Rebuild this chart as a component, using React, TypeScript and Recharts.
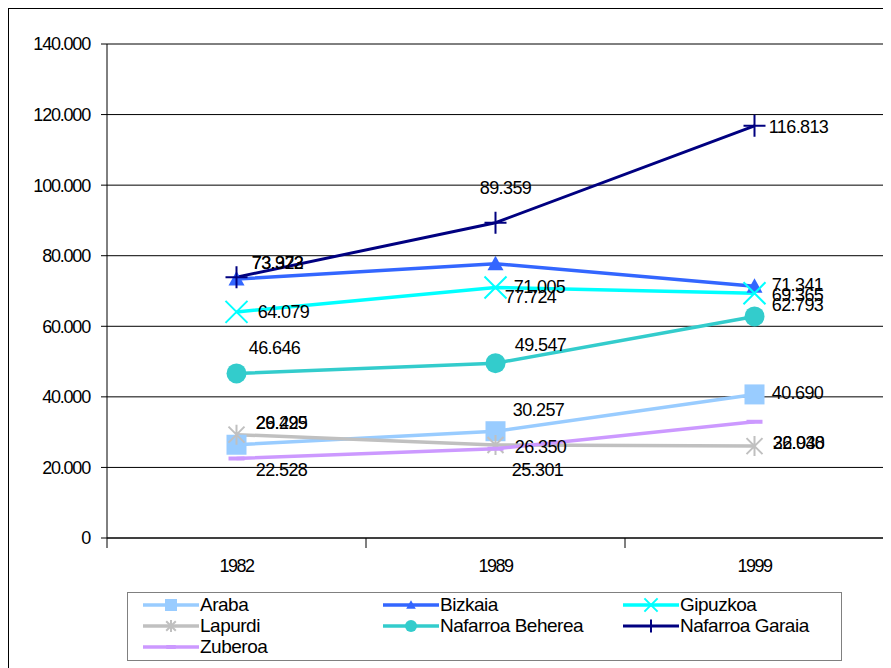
import { LineChart, Line, XAxis, YAxis, CartesianGrid, LabelList } from "recharts";

const years = ["1982", "1989", "1999"];
const yTicks = [0, 20000, 40000, 60000, 80000, 100000, 120000, 140000];

const araba = [26429, 30257, 40690];
const bizkaia = [73372, 77724, 71341];
const gipuzkoa = [64079, 71005, 69365];
const lapurdi = [29295, 26350, 26040];
const nafarroaBeherea = [46646, 49547, 62793];
const nafarroaGaraia = [73923, 89359, 116813];
const zuberoa = [22528, 25301, 32938];

type Kind = "square" | "triangle" | "x" | "star" | "circle" | "plus" | "dash";

// style + label placement per series (label offsets are relative to the point)
const series: {
  name: string;
  values: number[];
  color: string;
  width: number;
  marker: Kind;
  offsets: [number, number][];
}[] = [
  { name: "Araba", values: araba, color: "#99CCFF", width: 3.5, marker: "square", offsets: [[45, -22], [43, -21], [43, -1]] },
  { name: "Bizkaia", values: bizkaia, color: "#3366FF", width: 3.5, marker: "triangle", offsets: [[41, -16], [35, 33], [43, -1]] },
  { name: "Gipuzkoa", values: gipuzkoa, color: "#00FFFF", width: 3.5, marker: "x", offsets: [[47, 0], [44, 0], [43, 2]] },
  { name: "Lapurdi", values: lapurdi, color: "#C0C0C0", width: 3.5, marker: "star", offsets: [[45, -12], [45, 2], [44, -3]] },
  { name: "Nafarroa Beherea", values: nafarroaBeherea, color: "#33CCCC", width: 3.5, marker: "circle", offsets: [[38, -25], [45, -18], [43, -11]] },
  { name: "Nafarroa Garaia", values: nafarroaGaraia, color: "#000080", width: 3, marker: "plus", offsets: [[41, -14], [10, -35], [44, 1]] },
  { name: "Zuberoa", values: zuberoa, color: "#CC99FF", width: 3.5, marker: "dash", offsets: [[45, 11], [42, 21], [44, 21]] },
];

// categories sit at the middle of each band so the tick marks can go on the band edges
const data = years.map((year, i) => {
  const row: Record<string, number | string> = { x: i + 0.5, year };
  series.forEach((s) => (row[s.name] = s.values[i]));
  return row;
});

const fmt = (v: number) => String(v).replace(/\B(?=(\d{3})+(?!\d))/g, ".");

const FONT = "'Liberation Sans', Arial, sans-serif";

function Marker({ kind, cx, cy, color, s = 1 }: { kind: Kind; cx: number; cy: number; color: string; s?: number }) {
  const h = 10 * s;
  switch (kind) {
    case "square":
      return <rect x={cx - h} y={cy - h} width={2 * h} height={2 * h} fill={color} />;
    case "triangle": {
      const t = 8 * s;
      return <path d={`M${cx},${cy - t} L${cx + t},${cy + t * 0.8} L${cx - t},${cy + t * 0.8} Z`} fill={color} />;
    }
    case "circle":
      return <circle cx={cx} cy={cy} r={h} fill={color} />;
    case "x": {
      const a = 11 * s;
      return (
        <path d={`M${cx - a},${cy - a} L${cx + a},${cy + a} M${cx - a},${cy + a} L${cx + a},${cy - a}`} stroke={color} strokeWidth={2} />
      );
    }
    case "star": {
      const a = 8 * s;
      return (
        <path
          d={`M${cx - a},${cy - a} L${cx + a},${cy + a} M${cx - a},${cy + a} L${cx + a},${cy - a} M${cx},${cy - h} L${cx},${cy + h}`}
          stroke={color}
          strokeWidth={2}
        />
      );
    }
    case "plus": {
      const a = 11 * s;
      return <path d={`M${cx - a},${cy} L${cx + a},${cy} M${cx},${cy - a} L${cx},${cy + a}`} stroke={color} strokeWidth={2} />;
    }
    case "dash":
      return <path d={`M${cx - 8 * s},${cy} L${cx + 8 * s},${cy}`} stroke={color} strokeWidth={4} />;
  }
}

function XTick(props: any) {
  const { x, y, payload } = props;
  const v = payload.value as number;
  if (Number.isInteger(v)) {
    return <line x1={x} y1={y} x2={x} y2={y + 10} stroke="#000" />;
  }
  return (
    <text x={x} y={y + 34} textAnchor="middle" fontSize={18} letterSpacing={-1.5} fill="#000" fontFamily={FONT}>
      {years[Math.floor(v)]}
    </text>
  );
}

const makeLabel = (offsets: [number, number][]) => (props: any) => {
  const { x, y, value, index } = props;
  const [dx, dy] = offsets[index] || [40, 0];
  return (
    <text
      x={x + dx}
      y={y + dy}
      textAnchor="middle"
      dominantBaseline="central"
      fontSize={18}
      letterSpacing={-0.6}
      fill="#000"
      fontFamily={FONT}
    >
      {fmt(value)}
    </text>
  );
};

export default function App() {
  return (
    <div
      style={{
        position: "relative",
        width: 880,
        height: 668,
        border: "1px solid #000",
        background: "#fff",
        fontFamily: FONT,
      }}
    >
      <LineChart width={878} height={650} data={data} margin={{ top: 35, right: 3, bottom: 81, left: 0 }}>
        <CartesianGrid vertical={false} stroke="#000" />
        <XAxis
          dataKey="x"
          type="number"
          domain={[0, 3]}
          ticks={[0, 0.5, 1, 1.5, 2, 2.5, 3]}
          tickLine={false}
          tickSize={0}
          tickMargin={0}
          axisLine={{ stroke: "#000" }}
          tick={<XTick />}
          height={40}
          interval={0}
        />
        <YAxis
          width={98}
          domain={[0, 140000]}
          ticks={yTicks}
          tickFormatter={fmt}
          tickSize={6}
          tickMargin={11}
          axisLine={{ stroke: "#000" }}
          tickLine={{ stroke: "#000" }}
          tick={{ fill: "#000", fontSize: 18, letterSpacing: -1.2, fontFamily: FONT }}
          interval={0}
        />
        {series.map((s) => (
          <Line
            key={s.name}
            dataKey={s.name}
            stroke={s.color}
            strokeWidth={s.width}
            isAnimationActive={false}
            activeDot={false}
            dot={(p: any) => (
              <g key={`${s.name}-${p.index}`}>
                <Marker kind={s.marker} cx={p.cx} cy={p.cy} color={s.color} />
              </g>
            )}
          >
            <LabelList dataKey={s.name} content={makeLabel(s.offsets)} />
          </Line>
        ))}
      </LineChart>
      <div
        style={{
          position: "absolute",
          left: 118,
          top: 583,
          width: 713,
          height: 66,
          border: "1px solid #808080",
          display: "grid",
          gridTemplateColumns: "240px 240px 233px",
          gridAutoRows: "21px",
          paddingTop: 1,
          boxSizing: "content-box",
        }}
      >
        {series.map((s) => (
          <div key={s.name} style={{ display: "flex", alignItems: "center", paddingLeft: 15 }}>
            <svg width={56} height={20} style={{ display: "block" }}>
              <line x1={0} y1={10} x2={56} y2={10} stroke={s.color} strokeWidth={s.width} />
              <Marker kind={s.marker} cx={28} cy={10} color={s.color} s={0.6} />
            </svg>
            <span style={{ fontSize: 19, letterSpacing: -0.5, color: "#000", marginLeft: 1, lineHeight: "21px" }}>{s.name}</span>
          </div>
        ))}
      </div>
    </div>
  );
}
